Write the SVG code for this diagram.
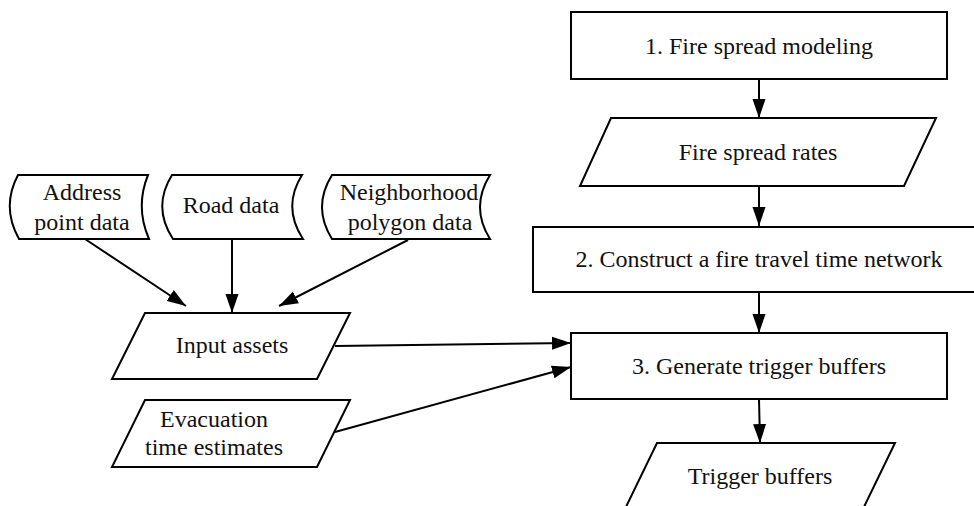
<svg xmlns="http://www.w3.org/2000/svg" width="974" height="506" viewBox="0 0 974 506">
<defs>
<style>
.s{fill:#fff;stroke:#000;stroke-width:2}
.t{font-family:'Liberation Serif','Tinos','Times New Roman','DejaVu Serif',serif;font-size:24px;fill:#111;text-anchor:middle}
.c{stroke:#000;stroke-width:2;fill:none;marker-end:url(#ah)}
</style>
<marker id="ah" markerUnits="userSpaceOnUse" markerWidth="20" markerHeight="14" refX="19" refY="7" orient="auto">
<path d="M0,0.5 L19,7 L0,13.5 Z" fill="#000"/>
</marker>
</defs>
<rect width="974" height="506" fill="#fff"/>
<g id="connectors">
<line class="c" x1="759" y1="79" x2="759" y2="118"/>
<line class="c" x1="759" y1="186" x2="759" y2="226"/>
<line class="c" x1="759" y1="292" x2="759" y2="333"/>
<line class="c" x1="759" y1="399" x2="760" y2="443"/>
<line class="c" x1="85" y1="239" x2="186" y2="306"/>
<line class="c" x1="232" y1="239" x2="232" y2="313"/>
<line class="c" x1="408" y1="240" x2="279" y2="306"/>
<line class="c" x1="335" y1="346" x2="571" y2="343"/>
<line class="c" x1="335" y1="432" x2="571" y2="367"/>
</g>
<g id="n1">
<rect class="s" x="571" y="12" width="376" height="67"/>
<text class="t" x="759" y="54" font-family="Liberation Serif, DejaVu Serif, serif">1. Fire spread modeling</text>
</g>
<g id="n_rates">
<polygon class="s" points="611,118 936,118 904,186 580,186"/>
<text class="t" x="758" y="160">Fire spread rates</text>
</g>
<g id="n2">
<rect class="s" x="533" y="227" width="452" height="65"/>
<text class="t" x="759" y="267">2. Construct a fire travel time network</text>
</g>
<g id="n3">
<rect class="s" x="571" y="333" width="376" height="66"/>
<text class="t" x="759" y="374">3. Generate trigger buffers</text>
</g>
<g id="n_trigger">
<polygon class="s" points="657,443 895,443 862,511 624,511"/>
<text class="t" x="760" y="484">Trigger buffers</text>
</g>
<g id="n_address">
<path class="s" d="M18,175 L148,175 Q135,207 149,239 L19,239 Q1,207 18,175 Z"/>
<text class="t" x="82" y="200">Address</text>
<text class="t" x="82" y="230">point data</text>
</g>
<g id="n_road">
<path class="s" d="M172,175 L302,175 Q282,207 303,239 L173,239 Q152,207 172,175 Z"/>
<text class="t" x="231" y="213">Road data</text>
</g>
<g id="n_neigh">
<path class="s" d="M332,175 L490,175 Q470,207 490,239 L332,239 Q312,207 332,175 Z"/>
<text class="t" x="409" y="200">Neighborhood</text>
<text class="t" x="410" y="230">polygon data</text>
</g>
<g id="n_input">
<polygon class="s" points="145,313 350,313 317,379 112,379"/>
<text class="t" x="232" y="353">Input assets</text>
</g>
<g id="n_evac">
<polygon class="s" points="145,400 350,400 317,467 112,467"/>
<text class="t" x="214" y="427">Evacuation</text>
<text class="t" x="214" y="455">time estimates</text>
</g>
</svg>
